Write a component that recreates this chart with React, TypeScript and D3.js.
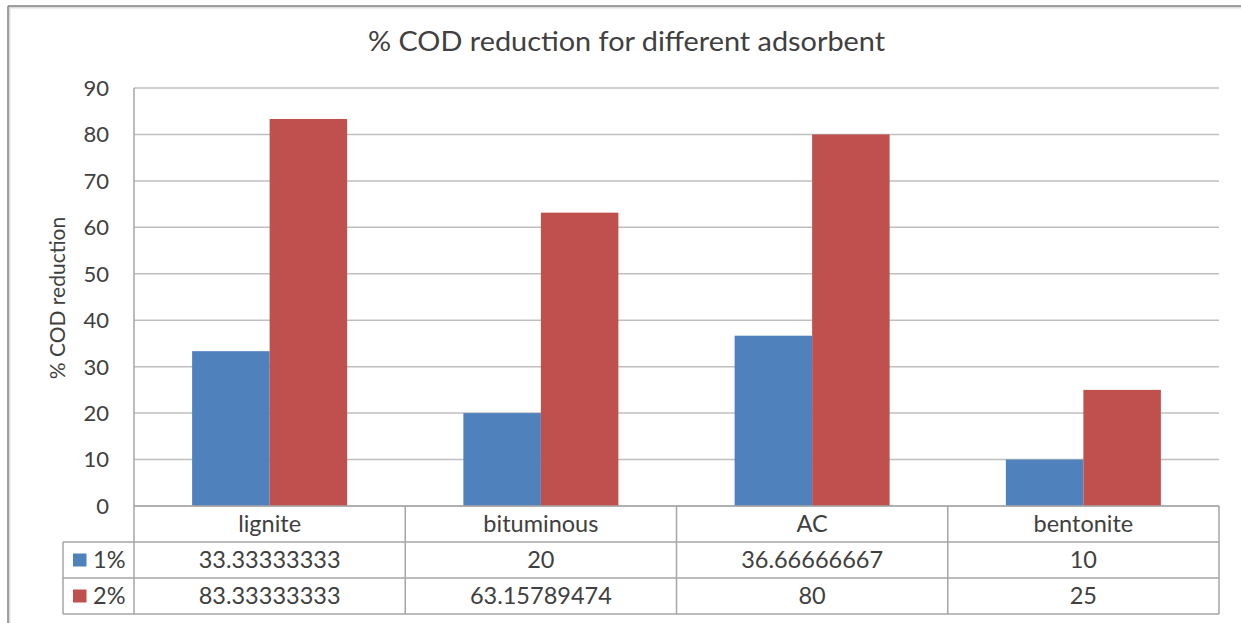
import React from "react";
import * as d3 from "d3";

const categories = ["lignite", "bituminous", "AC", "bentonite"];
const seriesNames = ["1%", "2%"];
const series1 = [33.33333333, 20, 36.66666667, 10];
const series2 = [83.33333333, 63.15789474, 80, 25];
const series1Labels = ["33.33333333", "20", "36.66666667", "10"];
const series2Labels = ["83.33333333", "63.15789474", "80", "25"];
const yTicks = [0, 10, 20, 30, 40, 50, 60, 70, 80, 90];
const colors = ["#4F81BD", "#C0504D"];

const W = 1241;
const H = 623;
const FONT = "Lato, 'Open Sans', sans-serif";
const TXT = "#404040";

export default function App() {
  const plotLeft = 134;
  const plotRight = 1219;
  const plotTop = 88;
  const plotBottom = 506;
  const rowH = 36;
  const legendLeft = 63;

  const y = d3.scaleLinear().domain([0, 90]).range([plotBottom, plotTop]);
  const x0 = d3.scaleBand().domain(categories).range([plotLeft, plotRight]).paddingInner(0).paddingOuter(0);
  const bw = x0.bandwidth();
  const barW = bw / 3.5;
  const x1 = d3.scaleBand().domain(seriesNames).range([0, barW * 2]);

  const allSeries = [series1, series2];
  const allLabels = [series1Labels, series2Labels];

  const gridColor = "#BFBFBF";
  const tableColor = "#A6A6A6";
  const tFont = 23.5;

  return (
    <svg width={W} height={H} style={{ position: "absolute", left: 0, top: 0, background: "#fff" }} fontFamily={FONT}>
      <rect x={0} y={0} width={W} height={H} fill="#fff" />
      {/* frame */}
      <line x1={8} y1={7.5} x2={W} y2={7.5} stroke="#DDDDDD" strokeWidth={2} />
      <line x1={9.5} y1={6} x2={9.5} y2={H} stroke="#DDDDDD" strokeWidth={2} />
      <line x1={8} y1={6} x2={W} y2={6} stroke="#808080" strokeWidth={1.5} />
      <line x1={8} y1={6} x2={8} y2={H} stroke="#808080" strokeWidth={1.5} />

      {/* title */}
      <text x={626.5} y={51} textAnchor="middle" fontSize={26} fill={TXT} textLength={517} lengthAdjust="spacingAndGlyphs">
        % COD reduction for different adsorbent
      </text>

      {/* gridlines */}
      {yTicks.map((t) => (
        <line key={t} x1={plotLeft} x2={plotRight} y1={y(t)} y2={y(t)} stroke={gridColor} strokeWidth={1.5} />
      ))}
      {/* y tick labels */}
      {yTicks.map((t) => (
        <text key={"l" + t} x={109} y={y(t)} dy="0.36em" textAnchor="end" fontSize={22} fill={TXT}>
          {t}
        </text>
      ))}
      {/* y axis title */}
      <text transform={`translate(65,298) rotate(-90)`} textAnchor="middle" fontSize={21} fill={TXT}>
        % COD reduction
      </text>

      {/* bars */}
      {categories.map((c, i) => (
        <g key={c} transform={`translate(${(x0(c) as number) + (bw - barW * 2) / 2},0)`}>
          {allSeries.map((s, k) => (
            <rect
              key={k}
              x={x1(seriesNames[k]) as number}
              y={y(s[i])}
              width={x1.bandwidth()}
              height={plotBottom - y(s[i])}
              fill={colors[k]}
            />
          ))}
        </g>
      ))}

      {/* axis line */}
      <line x1={plotLeft} x2={plotLeft} y1={plotTop} y2={plotBottom + rowH * 3} stroke={tableColor} strokeWidth={1.5} />

      {/* data table */}
      <line x1={plotLeft} x2={plotRight} y1={plotBottom} y2={plotBottom} stroke={tableColor} strokeWidth={1.5} />
      {[1, 2, 3].map((r) => (
        <line key={"h" + r} x1={legendLeft} x2={plotRight} y1={plotBottom + rowH * r} y2={plotBottom + rowH * r} stroke={tableColor} strokeWidth={1.5} />
      ))}
      <line x1={legendLeft} x2={legendLeft} y1={plotBottom + rowH} y2={plotBottom + rowH * 3} stroke={tableColor} strokeWidth={1.5} />
      {categories.map((c) => (
        <line key={"v" + c} x1={(x0(c) as number) + bw} x2={(x0(c) as number) + bw} y1={plotBottom} y2={plotBottom + rowH * 3} stroke={tableColor} strokeWidth={1.5} />
      ))}
      {categories.map((c) => (
        <text key={"c" + c} x={(x0(c) as number) + bw / 2} y={plotBottom + rowH / 2} dy="0.36em" textAnchor="middle" fontSize={tFont} fill={TXT}>
          {c}
        </text>
      ))}
      {allLabels.map((labels, k) =>
        categories.map((c, i) => (
          <text
            key={"d" + k + c}
            x={(x0(c) as number) + bw / 2}
            y={plotBottom + rowH * (k + 1.5)}
            dy="0.36em"
            textAnchor="middle"
            fontSize={tFont}
            fill={TXT}
          >
            {labels[i]}
          </text>
        ))
      )}
      {seriesNames.map((n, k) => (
        <g key={"lg" + n}>
          <rect x={73} y={plotBottom + rowH * (k + 1.5) - 6.5} width={13.5} height={13} fill={colors[k]} />
          <text x={93} y={plotBottom + rowH * (k + 1.5)} dy="0.36em" fontSize={tFont} fill={TXT}>
            {n}
          </text>
        </g>
      ))}
    </svg>
  );
}
